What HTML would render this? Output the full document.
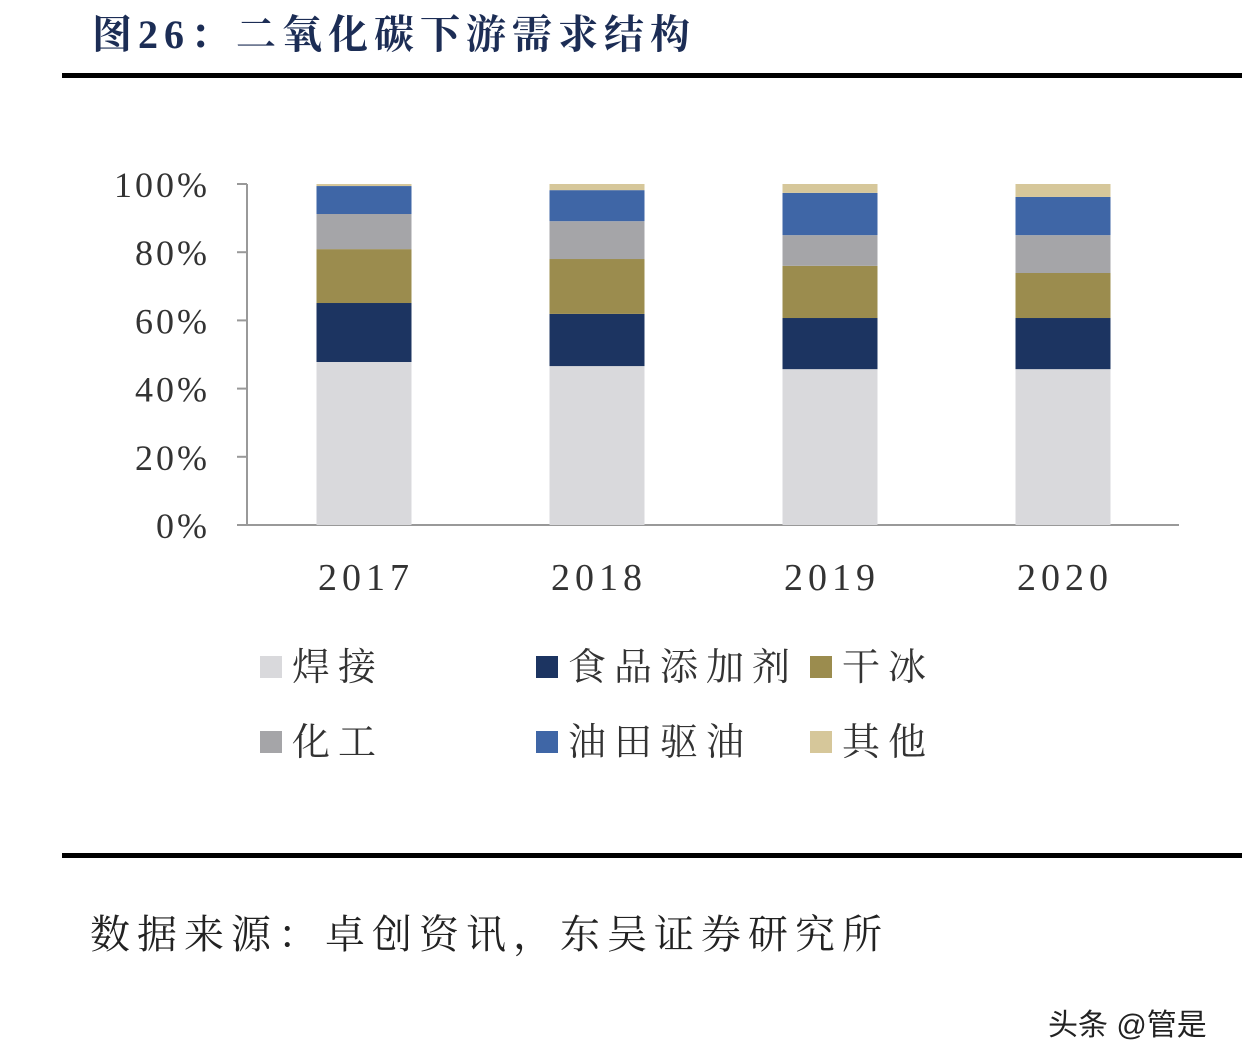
<!DOCTYPE html>
<html><head><meta charset="utf-8"><style>
body{margin:0;width:1242px;height:1062px;background:#fff;overflow:hidden;position:relative;font-family:"Liberation Serif","Noto Serif CJK SC",serif}
.t{position:absolute;white-space:nowrap}
</style></head><body>
<div class="t" style="left:92px;top:3px;font-size:40px;font-weight:bold;color:#1c2d55;letter-spacing:6px;font-family:'Liberation Serif','Noto Serif CJK SC',serif">图26：二氧化碳下游需求结构</div>
<div style="position:absolute;left:62px;top:73px;width:1180px;height:5px;background:#000"></div>
<svg id="c" width="1242" height="820" style="position:absolute;left:0;top:0"></svg>
<div style="position:absolute;left:62px;top:853px;width:1180px;height:5px;background:#000"></div>
<div class="t" style="left:90px;top:903px;font-size:40px;color:#222;letter-spacing:7px">数据来源：卓创资讯，东吴证券研究所</div>
<div class="t" style="left:1048px;top:1000px;font-size:30px;color:#222;font-family:'Liberation Sans','Noto Sans CJK SC',sans-serif">头条 @管是</div>
<script>
const years=["2017","2018","2019","2020"];
const seriesNames=["焊接","食品添加剂","干冰","化工","油田驱油","其他"];
const colors=["#d9d9dc","#1c3461","#9b8c4e","#a5a5a8","#3f66a6","#d6c79a"];
const welding=[47.8,46.6,45.7,45.7];
const food=[17.3,15.3,15.0,15.0];
const dryIce=[15.8,16.1,15.3,13.2];
const chemical=[10.3,11.1,9.0,11.1];
const oilfield=[8.2,9.1,12.4,11.2];
const other=[0.6,1.8,2.6,3.8];
const yTicks=[0,20,40,60,80,100];
const series=[welding,food,dryIce,chemical,oilfield,other];
const svg=document.getElementById('c'),NS='http://www.w3.org/2000/svg';
const y0=525,y1=184;const y=v=>y0-(y0-y1)*v/100;
const x=i=>364+233*i;const bw=95;
function mk(t,a,p){const e=document.createElementNS(NS,t);for(const k in a)e.setAttribute(k,a[k]);(p||svg).appendChild(e);return e;}
const ax=mk('line',{x1:247,y1:y1,x2:247,y2:y0,stroke:'#999','stroke-width':2});


const xa=mk('line',{x1:237,y1:y0,x2:1179,y2:y0,stroke:'#999','stroke-width':2});


yTicks.forEach(v=>{
 const tk=mk('line',{x1:237,y1:y(v),x2:247,y2:y(v),stroke:'#999','stroke-width':2});
 
 
 const t=mk('text',{x:210,y:y(v)+13,'text-anchor':'end','font-size':36,fill:'#333','letter-spacing':3});
 t.textContent=v+'%';
 
 
});
years.forEach((yr,i)=>{
 let acc=0;
 series.forEach((s,k)=>{
  const r=mk('rect',{x:x(i)-bw/2,y:y(acc+s[i]),width:bw,height:y(acc)-y(acc+s[i]),fill:colors[k]});
  
  
  acc+=s[i];
 });
 const t=mk('text',{x:x(i)+2,y:590,'text-anchor':'middle','font-size':38,fill:'#333','letter-spacing':5});
 t.textContent=yr;
 
 
});
const lx=[260,536,810],ly=[656,731];
seriesNames.forEach((n,k)=>{
 const cx=lx[k%3],cy=ly[Math.floor(k/3)];
 const r=mk('rect',{x:cx,y:cy,width:22,height:22,fill:colors[k]});
 
 
 const t=mk('text',{x:cx+32,y:cy+24,'font-size':38,fill:'#333','letter-spacing':8});
 t.textContent=n;
 
 
});
</script>
</body></html>
